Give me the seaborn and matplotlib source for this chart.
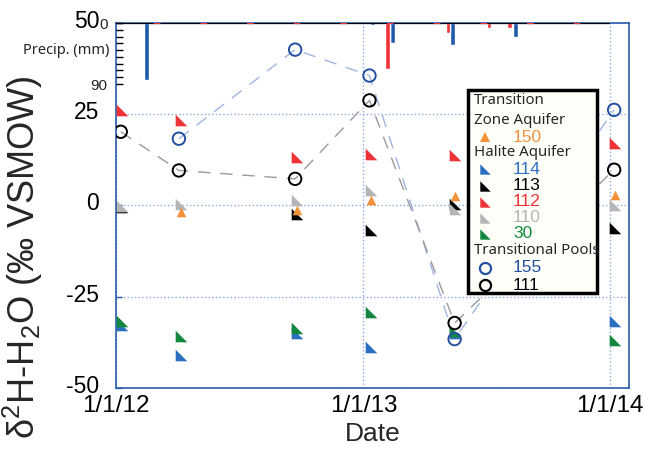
import numpy as np
import pandas as pd
import matplotlib
matplotlib.use("Agg")
import matplotlib.pyplot as plt
import matplotlib.transforms as mtransforms
from matplotlib.path import Path
from matplotlib.markers import MarkerStyle
from matplotlib.patches import Rectangle
from matplotlib.lines import Line2D
import seaborn as sns

nan = np.nan

# ---- sampling campaigns -------------------------------------------------
sample_dates = ["2012-01-10", "2012-04-06", "2012-09-25",
                "2013-01-12", "2013-05-17", "2014-01-08"]
pool_dates = ["2012-01-08", "2012-04-03", "2012-09-22",
              "2013-01-10", "2013-05-16", "2014-01-07"]

# delta 2H of water (permil VSMOW)
zone_150 = [nan, -1.9, -1.1, 1.4, 2.5, 3.0]
halite_114 = [-32.8, -41.0, -34.8, -38.9, -35.0, -31.6]
halite_30 = [-31.7, -35.8, -33.6, -29.2, -34.4, -36.8]
halite_113 = [-0.5, nan, -2.2, -6.8, 0.3, -6.3]
halite_112 = [26.1, 23.5, 13.4, 14.2, 13.7, 17.0]
halite_110 = [-0.1, 0.4, 1.6, 4.2, -1.0, 0.1]
pool_155 = [nan, 18.3, 42.7, 35.6, -36.6, 26.2]
pool_111 = [20.2, 9.6, 7.3, 28.8, -32.2, 9.8]

# ---- precipitation (mm), two gauges -------------------------------------
precip_blue_dates = ["2012-02-15", "2012-04-14", "2013-01-14",
                     "2013-02-13", "2013-05-13", "2013-08-14"]
precip_blue_mm = [84, 1.5, 3.4, 30, 32, 21]
precip_red_dates = ["2013-02-06", "2013-05-06", "2013-07-06", "2013-08-05"]
precip_red_mm = [68, 15, 8, 7]

x_ticks = ["2012-01-01", "2013-01-01", "2014-01-01"]
x_tick_labels = ["1/1/12", "1/1/13", "1/1/14"]
y_ticks = [-50, -25, 0, 25, 50]
precip_ticks = [0, 90]

# ---- colours --------------------------------------------------------------
C_BLUE = "#2a6fc0"
C_POOLBLUE = "#2350a0"
C_BLACK = "#000000"
C_RED = "#ee3338"
C_GRAY = "#b3b5b6"
C_GREEN = "#14873e"
C_ORANGE = "#f4923a"
C_FRAME = "#2a5caa"
C_GRID = "#8eaadb"

sns.set_theme(style="white")
plt.rcParams["font.family"] = ["Liberation Sans", "DejaVu Sans"]
plt.rcParams["mathtext.default"] = "regular"

fig = plt.figure(figsize=(6.5, 4.51), dpi=100)
ax = fig.add_axes([0.1785, 0.1397, 0.7892, 0.8093])

sd = pd.to_datetime(sample_dates)
pdts = pd.to_datetime(pool_dates)

# right-triangle marker used for the halite aquifer wells
tri = MarkerStyle(Path([(-1, -1), (1, -1), (-1, 1), (-1, -1)],
                       [Path.MOVETO, Path.LINETO, Path.LINETO, Path.CLOSEPOLY]))

# dashed connectors for the transitional pools
sns.lineplot(x=pdts, y=pool_155, ax=ax, color="#9db6e0", lw=1.0,
             linestyle=(0, (9, 7)), zorder=2)
sns.lineplot(x=pdts, y=pool_111, ax=ax, color="#9a9a9a", lw=1.0,
             linestyle=(0, (9, 7)), zorder=2)

tri_size = 70
for vals, col in [(halite_114, C_BLUE), (halite_30, C_GREEN),
                  (halite_113, C_BLACK), (halite_112, C_RED),
                  (halite_110, C_GRAY)]:
    sns.scatterplot(x=sd, y=vals, ax=ax, marker=tri, s=tri_size, color=col,
                    linewidth=0, zorder=3)
sns.scatterplot(x=sd, y=zone_150, ax=ax, marker="^", s=48, color=C_ORANGE,
                linewidth=0, zorder=4)

sns.scatterplot(x=pdts, y=pool_155, ax=ax, marker="o", s=80,
                facecolor="none", edgecolor=C_POOLBLUE, linewidth=1.4, zorder=5)
sns.scatterplot(x=pdts, y=pool_111, ax=ax, marker="o", s=80,
                facecolor="none", edgecolor=C_BLACK, linewidth=1.4, zorder=5)

# ---- main axes styling ----------------------------------------------------
ax.set_xlim(pd.Timestamp("2012-01-01"), pd.Timestamp("2014-01-29"))
ax.set_ylim(-50, 50)
ax.set_xticks(pd.to_datetime(x_ticks))
ax.set_xticklabels(x_tick_labels)
ax.set_yticks(y_ticks)
ax.set_yticklabels([str(v) for v in y_ticks])
ax.tick_params(axis="both", direction="in", length=6, width=1, color=C_FRAME,
               labelcolor="black")
ax.tick_params(axis="y", pad=12, length=4, labelsize=16.5)
ax.tick_params(axis="x", pad=5, labelsize=17.5)
# value labels sit slightly above their tick
lift = mtransforms.ScaledTranslation(0, 0.04, fig.dpi_scale_trans)
for tick in ax.yaxis.get_major_ticks():
    tick.label1.set_transform(tick.label1.get_transform() + lift)
for s in ax.spines.values():
    s.set_color(C_FRAME)
    s.set_linewidth(1.2)
ax.grid(True, color=C_GRID, linestyle=":", linewidth=1.0)
ax.set_xlabel("Date", fontsize=19)
ax.xaxis.set_label_coords(0.5, -0.094)
ax.set_ylabel("δ$^2$H-H$_2$O (‰ VSMOW)", fontsize=26)
ax.yaxis.set_label_coords(-0.138, 0.36)

# ---- precipitation on an inverted twin axis ------------------------------
ax2 = ax.twinx()
ax2.bar(pd.to_datetime(precip_blue_dates), precip_blue_mm, width=7,
        color="#1f5aa8", zorder=3)
ax2.bar(pd.to_datetime(precip_red_dates), precip_red_mm, width=7,
        color=C_RED, zorder=3)
ax2.set_ylim(538, 0)
ax2.yaxis.set_ticks_position("left")
ax2.set_yticks(precip_ticks)
ax2.set_yticklabels([str(v) for v in precip_ticks])
ax2.set_yticks(np.arange(10, 90, 10), minor=True)
ax2.tick_params(axis="y", which="both", direction="in", length=5, width=1,
                color="black", labelsize=11, pad=6)
ax2.grid(False)
for s in ax2.spines.values():
    s.set_visible(False)
# gauge baseline along the top of the panel
ax2.hlines(0, pd.Timestamp("2012-01-01"), pd.Timestamp("2014-01-01"),
           color="black", lw=1.6, zorder=4)
ax2.hlines(0, pd.Timestamp("2012-01-01"), pd.Timestamp("2014-01-01"),
           color=C_RED, lw=1.6, linestyles=[(4, (3, 18))], zorder=5)
ax2.text(-0.012, 40, "Precip. (mm)", fontsize=10.5, ha="right", va="center",
         family=["Noto Sans", "DejaVu Sans"],
         transform=mtransforms.blended_transform_factory(ax2.transAxes,
                                                         ax2.transData))

# ---- legend panel ---------------------------------------------------------
lx0, ly0 = 468, 90          # box corner (pixels from top-left)
lw_, lh_ = 129, 203
H = 451.0
W = 650.0


def fx(px):
    return px / W


def fy(py):
    return 1 - py / H


fig.patches.append(Rectangle((fx(lx0), fy(ly0 + lh_)), lw_ / W, lh_ / H,
                             transform=fig.transFigure, facecolor="#fffff9",
                             edgecolor="black", linewidth=2.5, zorder=10))
hdr_font = ["Noto Sans", "DejaVu Sans"]
rows = [
    ("hdr", "Transition", None, None),
    ("hdr", "Zone Aquifer", None, None),
    ("item", "150", "^", C_ORANGE),
    ("hdr", "Halite Aquifer", None, None),
    ("item", "114", tri, C_BLUE),
    ("item", "113", tri, C_BLACK),
    ("item", "112", tri, C_RED),
    ("item", "110", tri, C_GRAY),
    ("item", "30", tri, C_GREEN),
    ("hdr", "Transitional Pools", None, None),
    ("item", "155", "o", C_POOLBLUE),
    ("item", "111", "o", C_BLACK),
]
row_y = [101, 120, 137, 153, 169, 186, 202, 218, 234, 251, 268, 285]
for (kind, label, mk, col), yy in zip(rows, row_y):
    if kind == "hdr":
        fig.text(fx(474), fy(yy), label, fontsize=10.8, family=hdr_font,
                 ha="left", va="center", zorder=11)
    else:
        if mk == "o":
            fig.add_artist(Line2D([fx(485)], [fy(yy)], marker="o",
                                  markersize=8, markerfacecolor="none",
                                  markeredgecolor=col, markeredgewidth=1.6,
                                  linestyle="none", transform=fig.transFigure,
                                  zorder=11))
        else:
            ms = 6.5 if mk == "^" else 7.5
            fig.add_artist(Line2D([fx(485)], [fy(yy)], marker=mk,
                                  markersize=ms, color=col, markeredgewidth=0,
                                  linestyle="none", transform=fig.transFigure,
                                  zorder=11))
        fig.text(fx(513), fy(yy), label, fontsize=12.5, color=col,
                 ha="left", va="center", zorder=11)

fig.savefig("out.png", dpi=100)
